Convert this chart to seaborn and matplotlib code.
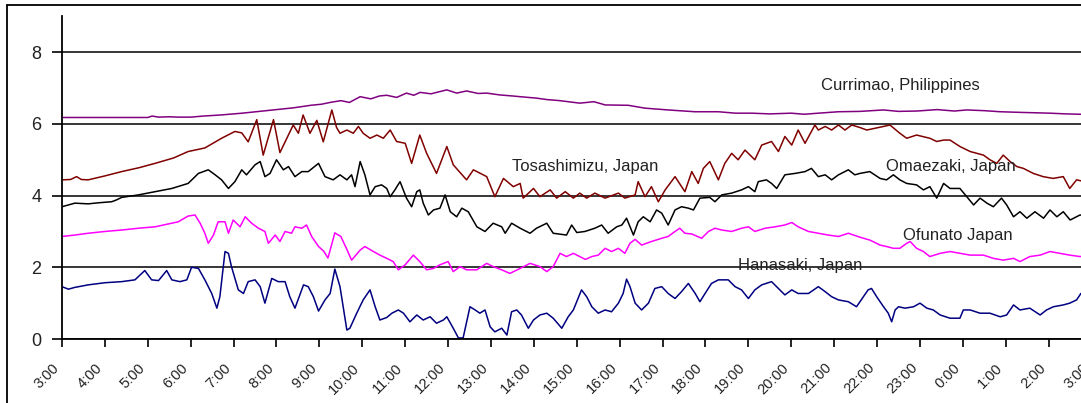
import matplotlib
matplotlib.use("Agg")
import matplotlib.pyplot as plt
import matplotlib.transforms as mtransforms
import seaborn as sns
import pandas as pd
from matplotlib.lines import Line2D

# ---------------- data (hours after 3:00, water level) ----------------
hour_labels = ["3:00", "4:00", "5:00", "6:00", "7:00", "8:00", "9:00", "10:00",
               "11:00", "12:00", "13:00", "14:00", "15:00", "16:00", "17:00",
               "18:00", "19:00", "20:00", "21:00", "22:00", "23:00", "0:00",
               "1:00", "2:00", "3:00"]

stations = ["Currimao, Philippines", "Tosashimizu, Japan", "Omaezaki, Japan",
            "Ofunato Japan", "Hanasaki, Japan"]

currimao_t = [0, 2.0, 2.1, 2.25, 2.5, 2.7, 3.0, 3.3, 3.7, 4.2,
              4.6, 5.0, 5.4, 5.8, 6.05, 6.25, 6.5, 6.7, 6.95, 7.2,
              7.4, 7.57, 7.8, 8.03, 8.2, 8.35, 8.6, 8.8, 8.97, 9.2,
              9.43, 9.7, 9.9, 10.2, 10.5, 10.68, 11.06, 11.3, 11.6, 12.07,
              12.4, 12.66, 13.2, 13.59, 14.13, 14.5, 14.76, 15.3, 15.7, 16.08,
              16.5, 17.0, 17.3, 17.63, 18.1, 18.6, 19.15, 19.5, 19.93, 20.4,
              20.8, 21.09, 21.5, 21.87, 22.41, 23.03, 23.4, 23.74, 24]
currimao_v = [6.18, 6.18, 6.22, 6.19, 6.2, 6.19, 6.19, 6.22, 6.25, 6.3,
              6.35, 6.4, 6.45, 6.52, 6.55, 6.6, 6.65, 6.6, 6.76, 6.7,
              6.78, 6.8, 6.74, 6.86, 6.8, 6.88, 6.84, 6.9, 6.95, 6.86,
              6.92, 6.85, 6.86, 6.81, 6.78, 6.76, 6.72, 6.68, 6.65, 6.58,
              6.62, 6.53, 6.52, 6.44, 6.39, 6.36, 6.34, 6.34, 6.3, 6.3,
              6.28, 6.3, 6.27, 6.3, 6.34, 6.35, 6.39, 6.35, 6.36, 6.4,
              6.36, 6.39, 6.37, 6.34, 6.32, 6.3, 6.28, 6.27, 6.25]

tosa_t = [0, 0.2, 0.34, 0.45, 0.61, 1.0, 1.39, 1.8, 2.17, 2.6,
          2.94, 3.33, 3.72, 4.03, 4.19, 4.34, 4.54, 4.69, 4.93, 5.08,
          5.39, 5.51, 5.62, 5.78, 5.94, 6.09, 6.29, 6.4, 6.48, 6.64,
          6.79, 6.91, 7.02, 7.18, 7.34, 7.49, 7.65, 7.8, 8.0, 8.15,
          8.34, 8.5, 8.73, 8.97, 9.12, 9.43, 9.59, 9.9, 10.09, 10.29,
          10.52, 10.68, 10.75, 10.99, 11.14, 11.38, 11.53, 11.73, 11.92, 12.07,
          12.23, 12.42, 12.66, 12.97, 13.12, 13.36, 13.43, 13.59, 13.74, 13.9,
          14.06, 14.29, 14.52, 14.68, 14.83, 14.95, 15.1, 15.3, 15.45, 15.61,
          15.76, 15.92, 16.15, 16.31, 16.54, 16.7, 16.85, 17.01, 17.16, 17.32,
          17.55, 17.63, 17.79, 17.94, 18.1, 18.25, 18.41, 18.6, 18.76, 19.15,
          19.3, 19.53, 19.69, 19.92, 20.23, 20.39, 20.55, 20.7, 20.93, 21.17,
          21.48, 21.63, 21.79, 21.94, 22.1, 22.26, 22.41, 22.64, 22.87, 23.1,
          23.34, 23.49, 23.65, 23.8, 24]
tosa_v = [4.44, 4.45, 4.53, 4.45, 4.44, 4.55, 4.67, 4.78, 4.9, 5.05,
          5.23, 5.33, 5.6, 5.79, 5.75, 5.5, 6.12, 5.13, 6.12, 5.2,
          5.97, 5.74, 6.25, 5.74, 6.1, 5.5, 6.39, 5.9, 5.74, 5.83,
          5.74, 5.93, 5.74, 5.6, 5.69, 5.6, 5.83, 5.51, 5.46, 4.9,
          5.69, 5.18, 4.62, 5.37, 4.86, 4.44, 4.72, 4.53, 3.97, 4.48,
          4.25, 4.34, 3.93, 4.2, 3.97, 4.16, 3.93, 4.11, 3.93, 4.07,
          3.93, 4.07, 3.93, 4.07, 3.93, 4.02, 4.39, 3.97, 4.25, 3.83,
          4.16, 4.53, 4.11, 4.67, 4.34, 4.76, 4.95, 4.44, 4.9, 5.18,
          5.0, 5.27, 5.0, 5.41, 5.51, 5.23, 5.65, 5.41, 5.83, 5.46,
          5.97, 5.83, 5.93, 5.83, 5.97, 5.83, 5.97, 5.9, 5.83, 5.93,
          5.97, 5.74, 5.6, 5.69, 5.6, 5.51, 5.55, 5.55, 5.37, 5.23,
          5.13, 5.0, 4.9, 5.13, 4.95, 4.81, 4.76, 4.62, 4.53, 4.48,
          4.53, 4.2, 4.44, 4.4, 4.35]

omae_t = [0, 0.15, 0.3, 0.61, 0.85, 1.16, 1.27, 1.39, 1.78, 2.17,
          2.56, 2.94, 3.18, 3.41, 3.57, 3.72, 3.88, 4.03, 4.19, 4.3,
          4.5, 4.62, 4.73, 4.85, 5.0, 5.16, 5.28, 5.43, 5.59, 5.74,
          5.98, 6.13, 6.32, 6.48, 6.64, 6.75, 6.83, 6.95, 7.06, 7.18,
          7.3, 7.45, 7.57, 7.65, 7.76, 7.88, 8.03, 8.15, 8.27, 8.34,
          8.42, 8.54, 8.66, 8.81, 8.93, 9.05, 9.2, 9.32, 9.47, 9.67,
          9.86, 10.05, 10.25, 10.33, 10.48, 10.68, 10.91, 11.06, 11.3, 11.45,
          11.76, 11.88, 12.0, 12.19, 12.42, 12.58, 12.73, 12.93, 13.05, 13.16,
          13.32, 13.43, 13.55, 13.71, 13.86, 13.98, 14.13, 14.29, 14.44, 14.6,
          14.72, 14.87, 15.1, 15.22, 15.38, 15.61, 15.84, 16.0, 16.15, 16.23,
          16.42, 16.54, 16.66, 16.85, 17.09, 17.32, 17.47, 17.63, 17.79, 17.94,
          18.1, 18.33, 18.48, 18.6, 18.83, 19.07, 19.22, 19.38, 19.53, 19.69,
          19.92, 20.08, 20.23, 20.39, 20.55, 20.7, 20.93, 21.09, 21.25, 21.4,
          21.56, 21.71, 21.9, 22.02, 22.18, 22.33, 22.49, 22.68, 22.88, 23.03,
          23.19, 23.34, 23.5, 23.73, 24]
omae_v = [3.69, 3.74, 3.79, 3.77, 3.8, 3.83, 3.88, 3.95, 4.02, 4.11,
          4.2, 4.34, 4.62, 4.72, 4.58, 4.44, 4.2, 4.39, 4.72, 4.58,
          4.86, 4.95, 4.53, 4.62, 5.0, 4.72, 4.81, 4.53, 4.67, 4.67,
          4.9, 4.53, 4.44, 4.58, 4.44, 4.58, 4.25, 4.95, 4.58, 4.02,
          4.25, 4.3, 4.2, 3.97, 4.16, 4.39, 3.93, 3.69, 4.11, 4.16,
          3.79, 3.46, 3.6, 3.65, 4.02, 3.55, 3.41, 3.65, 3.55, 3.13,
          3.0, 3.23, 3.13, 2.95, 3.23, 3.09, 2.95, 3.09, 3.23, 2.95,
          2.9, 3.18, 2.97, 3.0, 3.09, 3.18, 2.95, 3.13, 3.18, 3.37,
          2.9, 3.27, 3.41, 3.27, 3.6, 3.51, 3.18, 3.6, 3.69, 3.65,
          3.6, 3.93, 3.95, 3.83, 4.02, 4.07, 4.16, 4.25, 4.11, 4.39,
          4.44, 4.34, 4.2, 4.58, 4.62, 4.67, 4.76, 4.53, 4.58, 4.44,
          4.58, 4.72, 4.58, 4.62, 4.67, 4.48, 4.44, 4.58, 4.44, 4.34,
          4.3, 4.16, 4.25, 3.93, 4.34, 4.2, 4.2, 3.97, 3.74, 3.93,
          3.79, 3.69, 3.93, 3.74, 3.41, 3.55, 3.37, 3.55, 3.37, 3.6,
          3.41, 3.55, 3.32, 3.46, 3.4]

ofun_t = [0, 0.3, 0.61, 1.0, 1.39, 1.78, 2.17, 2.56, 2.71, 2.94,
          3.1, 3.22, 3.33, 3.41, 3.53, 3.64, 3.8, 3.88, 3.99, 4.15,
          4.27, 4.42, 4.58, 4.73, 4.81, 4.97, 5.08, 5.2, 5.35, 5.43,
          5.59, 5.7, 5.82, 5.98, 6.1, 6.2, 6.36, 6.5, 6.64, 6.75,
          6.95, 7.06, 7.26, 7.41, 7.57, 7.72, 7.84, 8.0, 8.19, 8.34,
          8.5, 8.66, 8.81, 9.0, 9.12, 9.28, 9.43, 9.67, 9.9, 10.05,
          10.25, 10.44, 10.68, 10.91, 11.14, 11.3, 11.45, 11.61, 11.76, 11.92,
          12.07, 12.2, 12.35, 12.5, 12.66, 12.81, 12.97, 13.12, 13.24, 13.36,
          13.51, 13.74, 13.98, 14.13, 14.29, 14.4, 14.52, 14.68, 14.91, 15.07,
          15.22, 15.38, 15.61, 15.84, 16.0, 16.15, 16.39, 16.62, 16.85, 17.01,
          17.16, 17.4, 17.63, 17.86, 18.1, 18.33, 18.6, 18.83, 19.07, 19.22,
          19.38, 19.53, 19.69, 19.77, 19.92, 20.08, 20.23, 20.47, 20.7, 20.93,
          21.17, 21.48, 21.71, 21.94, 22.18, 22.33, 22.56, 22.8, 23.03, 23.26,
          23.49, 23.73, 24]
ofun_v = [2.86, 2.9, 2.95, 3.0, 3.04, 3.09, 3.13, 3.23, 3.27, 3.43,
          3.46, 3.23, 2.95, 2.67, 2.9, 3.27, 3.27, 2.95, 3.32, 3.13,
          3.41, 3.23, 3.09, 3.0, 2.67, 2.9, 2.72, 3.0, 2.95, 3.13,
          3.09, 3.18, 2.86, 2.58, 2.45, 2.26, 2.96, 2.86, 2.5, 2.2,
          2.48, 2.58, 2.44, 2.34, 2.25, 2.16, 1.93, 2.07, 2.34, 2.16,
          1.93, 1.97, 2.07, 2.16, 1.88, 2.02, 1.93, 1.93, 2.11, 2.02,
          1.93, 1.83, 1.97, 2.11, 2.02, 1.88, 2.02, 2.39, 2.3, 2.39,
          2.3, 2.22, 2.3, 2.34, 2.53, 2.44, 2.53, 2.39, 2.67, 2.78,
          2.62, 2.72, 2.81, 2.86, 3.0, 3.09, 2.95, 2.93, 2.81, 3.0,
          3.09, 3.04, 3.0, 3.09, 3.13, 3.0, 3.09, 3.13, 3.18, 3.25,
          3.13, 3.0, 2.95, 2.9, 2.86, 2.95, 2.84, 2.76, 2.62, 2.58,
          2.53, 2.53, 2.67, 2.72, 2.53, 2.44, 2.3, 2.39, 2.44, 2.39,
          2.34, 2.34, 2.25, 2.2, 2.25, 2.16, 2.3, 2.34, 2.44, 2.39,
          2.34, 2.3, 2.32]

hana_t = [0, 0.15, 0.3, 0.61, 1.0, 1.39, 1.7, 1.93, 2.09, 2.25,
          2.44, 2.56, 2.75, 2.91, 3.02, 3.18, 3.33, 3.49, 3.61, 3.68,
          3.8, 3.88, 3.95, 4.11, 4.23, 4.34, 4.5, 4.62, 4.73, 4.89,
          5.04, 5.2, 5.31, 5.43, 5.63, 5.74, 5.86, 5.98, 6.13, 6.25,
          6.36, 6.48, 6.64, 6.71, 6.87, 7.02, 7.18, 7.3, 7.41, 7.57,
          7.69, 7.84, 7.96, 8.11, 8.27, 8.42, 8.58, 8.73, 8.89, 8.97,
          9.12, 9.24, 9.35, 9.51, 9.63, 9.74, 9.86, 9.98, 10.09, 10.25,
          10.37, 10.48, 10.6, 10.71, 10.87, 10.99, 11.14, 11.3, 11.45, 11.65,
          11.8, 11.92, 12.11, 12.23, 12.35, 12.5, 12.66, 12.81, 12.97, 13.08,
          13.16, 13.24, 13.36, 13.51, 13.67, 13.82, 13.98, 14.13, 14.29, 14.44,
          14.6, 14.76, 14.87, 14.99, 15.14, 15.3, 15.53, 15.69, 15.84, 16.0,
          16.15, 16.31, 16.54, 16.7, 16.85, 17.01, 17.16, 17.4, 17.63, 17.79,
          17.94, 18.1, 18.33, 18.52, 18.68, 18.79, 18.87, 18.99, 19.15, 19.26,
          19.34, 19.42, 19.5, 19.65, 19.85, 20.0, 20.16, 20.31, 20.47, 20.7,
          20.93, 21.01, 21.17, 21.4, 21.63, 21.87, 22.02, 22.18, 22.33, 22.56,
          22.8, 22.95, 23.11, 23.34, 23.49, 23.65, 23.75, 24]
hana_v = [1.46, 1.39, 1.44, 1.51, 1.57, 1.6, 1.65, 1.91, 1.65, 1.63,
          1.91, 1.65, 1.6, 1.65, 2.0, 1.97, 1.65, 1.27, 0.86, 1.18,
          2.44, 2.39, 2.02, 1.37, 1.27, 1.6, 1.65, 1.46, 1.0, 1.69,
          1.6, 1.6, 1.18, 0.86, 1.51, 1.46, 1.18, 0.78, 1.09, 1.27,
          1.95, 1.46, 0.25, 0.3, 0.72, 1.09, 1.37, 0.9, 0.53, 0.6,
          0.72, 0.81, 0.72, 0.48, 0.67, 0.53, 0.62, 0.44, 0.53, 0.62,
          0.3, 0.03, 0.03, 0.9, 0.81, 0.72, 0.81, 0.34, 0.2, 0.3,
          0.11, 0.76, 0.81, 0.67, 0.3, 0.53, 0.67, 0.72, 0.58, 0.3,
          0.62, 0.81, 1.37, 1.18, 0.9, 0.72, 0.81, 0.76, 1.0, 1.27,
          1.67, 1.46, 1.0, 0.81, 1.0, 1.41, 1.46, 1.27, 1.13, 1.32,
          1.55, 1.27, 1.04, 1.27, 1.55, 1.65, 1.65, 1.46, 1.37, 1.13,
          1.37, 1.51, 1.6, 1.41, 1.23, 1.37, 1.27, 1.27, 1.46, 1.32,
          1.18, 1.09, 1.04, 0.9, 1.18, 1.37, 1.41, 1.18, 0.9, 0.72,
          0.48, 0.81, 0.9, 0.86, 0.9, 1.0, 0.86, 0.81, 0.67, 0.58,
          0.58, 0.81, 0.81, 0.72, 0.72, 0.62, 0.67, 0.95, 0.81, 0.86,
          0.67, 0.81, 0.9, 0.95, 1.0, 1.09, 1.27, 1.3]

line_colors = ["#800080", "#800000", "#000000", "#ff00ff", "#000080"]
label_pos = [(17.7, 7.06), (10.5, 4.8), (19.2, 4.8), (19.6, 2.9), (15.76, 2.06)]

# ---------------- build long table ----------------
series = [(currimao_t, currimao_v), (tosa_t, tosa_v), (omae_t, omae_v),
          (ofun_t, ofun_v), (hana_t, hana_v)]
frames = []
for name, (t, v) in zip(stations, series):
    frames.append(pd.DataFrame({"hour": t, "level": v, "station": name}))
df = pd.concat(frames, ignore_index=True)

# ---------------- drawing ----------------
sns.set_style("white")
plt.rcParams["font.family"] = ["Liberation Sans", "DejaVu Sans"]

W, H = 1081, 403
fig = plt.figure(figsize=(W / 100, H / 100), dpi=100)
fig.patch.set_facecolor("white")
ax = fig.add_axes([62 / W, 64 / H, 1029.6 / W, 322.6 / H])

sns.lineplot(data=df, x="hour", y="level", hue="station", hue_order=stations,
             palette=dict(zip(stations, line_colors)), estimator=None,
             sort=False, legend=False, linewidth=1.1, ax=ax)

ax.set_xlim(0, 24)
ax.set_ylim(0, 9)
ax.set_xticks(range(25))
ax.set_xticklabels(hour_labels, rotation=45, ha="right", va="top",
                   rotation_mode="anchor", fontsize=10.5, color="#222222")
ax.set_yticks([0, 2, 4, 6, 8])
ax.set_yticklabels(["0", "2", "4", "6", "8"], fontsize=13, color="#222222")
ax.set_xlabel("")
ax.set_ylabel("")
ax.tick_params(axis="both", which="major", direction="out", length=7,
               width=1.2, color="black", bottom=True, left=True)
ax.tick_params(axis="x", length=6, pad=6)
ax.tick_params(axis="y", pad=8)

# shift rotated hour labels so their ends sit left of and below each tick
offset = mtransforms.ScaledTranslation(-0.10, -0.05, fig.dpi_scale_trans)
for lab in ax.xaxis.get_majorticklabels():
    lab.set_transform(lab.get_transform() + offset)

ax.yaxis.grid(True, color="black", linewidth=1.1)
ax.xaxis.grid(False)
ax.set_axisbelow(True)
for side in ["top", "right"]:
    ax.spines[side].set_visible(False)
for side in ["left", "bottom"]:
    ax.spines[side].set_color("black")
    ax.spines[side].set_linewidth(1.3)

for name, (x, y) in zip(stations, label_pos):
    ax.text(x, y, name, fontsize=12, ha="left", va="center", color="#222222")

# outer frame of the picture (left and top edges)
fig.add_artist(Line2D([7.5 / W, 7.5 / W], [0, 1 - 4.5 / H],
                      transform=fig.transFigure, color="black", lw=1.3))
fig.add_artist(Line2D([7.5 / W, 1.0], [1 - 4.5 / H, 1 - 4.5 / H],
                      transform=fig.transFigure, color="black", lw=1.3))

fig.savefig("out.png", dpi=100, facecolor="white")
